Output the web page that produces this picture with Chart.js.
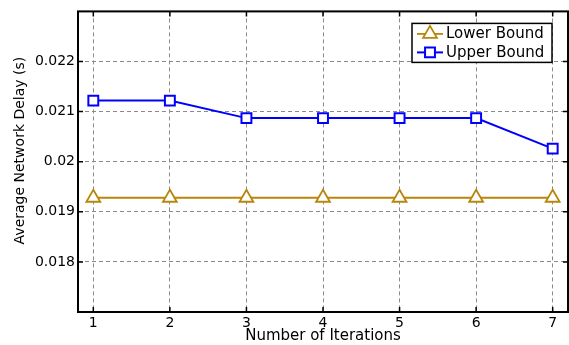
<!DOCTYPE html>
<html><head><meta charset="utf-8">
<script src="https://cdn.jsdelivr.net/npm/chart.js@4.4.0/dist/chart.umd.min.js"></script>
<style>html,body{margin:0;padding:0;background:#fff;overflow:hidden}#wrap{width:569px;height:345px;position:relative}</style>
</head><body><div id="wrap"><canvas id="c" width="569" height="345"></canvas></div>
<script>
const iterations = [1, 2, 3, 4, 5, 6, 7];
const lowerBound = [0.01928, 0.01928, 0.01928, 0.01928, 0.01928, 0.01928, 0.01928];
const upperBound = [0.02122, 0.02122, 0.02087, 0.02087, 0.02087, 0.02087, 0.02026];
const xTicks = [1, 2, 3, 4, 5, 6, 7];
const yTicks = [0.018, 0.019, 0.020, 0.021, 0.022];
const yTickLabels = ['0.018', '0.019', '0.02', '0.021', '0.022'];
const seriesNames = ['Lower Bound', 'Upper Bound'];
const xTitle = 'Number of Iterations';
const yTitle = 'Average Network Delay (s)';

const FONT = '"DejaVu Sans", "Liberation Sans", Arial, sans-serif';

const frameLegendPlugin = {
  id: 'frameLegend',
  afterDraw(chart) {
    const ctx = chart.ctx, ca = chart.chartArea;
    const xs = chart.scales.x, ys = chart.scales.y;
    ctx.save();
    ctx.setLineDash([]);
    ctx.strokeStyle = '#000';
    ctx.lineWidth = 2;
    ctx.strokeRect(ca.left, ca.top, ca.right - ca.left, ca.bottom - ca.top);
    ctx.lineWidth = 1.5;
    ctx.beginPath();
    xTicks.forEach(v => {
      const px = xs.getPixelForValue(v);
      ctx.moveTo(px, ca.bottom); ctx.lineTo(px, ca.bottom - 5);
      ctx.moveTo(px, ca.top); ctx.lineTo(px, ca.top + 5);
    });
    yTicks.forEach(v => {
      const py = ys.getPixelForValue(v);
      ctx.moveTo(ca.left, py); ctx.lineTo(ca.left + 5, py);
      ctx.moveTo(ca.right, py); ctx.lineTo(ca.right - 5, py);
    });
    ctx.stroke();

    // legend
    const lx = ca.right - 156, ly = ca.top + 12, lw = 140, lh = 39;
    ctx.fillStyle = '#fff';
    ctx.fillRect(lx, ly, lw, lh);
    ctx.strokeStyle = '#000';
    ctx.lineWidth = 1.5;
    ctx.strokeRect(lx, ly, lw, lh);
    chart.data.datasets.forEach((ds, i) => {
      const y = ly + 10.5 + i * 18.5;
      ctx.strokeStyle = ds.borderColor;
      ctx.lineWidth = ds.borderWidth;
      ctx.beginPath();
      ctx.moveTo(lx + 5, y); ctx.lineTo(lx + 31, y);
      ctx.stroke();
      ctx.fillStyle = '#fff';
      ctx.strokeStyle = ds.pointBorderColor;
      ctx.lineWidth = ds.pointBorderWidth;
      Chart.helpers.drawPoint(ctx, {pointStyle: ds.pointStyle, radius: ds.pointRadius, rotation: 0, borderWidth: ds.pointBorderWidth}, lx + 18, y);
      ctx.fillStyle = '#000';
      ctx.font = '15px ' + FONT;
      ctx.textBaseline = 'middle';
      ctx.textAlign = 'left';
      ctx.fillText(ds.label, lx + 34, y + 0.5);
    });
    ctx.restore();
  }
};

new Chart(document.getElementById('c'), {
  type: 'line',
  data: {
    datasets: [
      {
        label: seriesNames[0],
        data: iterations.map((x, i) => ({x, y: lowerBound[i]})),
        borderColor: '#B8860B', borderWidth: 1.8,
        pointStyle: 'triangle', pointRadius: 8, pointBorderWidth: 1.8,
        pointBorderColor: '#B8860B', pointBackgroundColor: '#fff',
        tension: 0, fill: false
      },
      {
        label: seriesNames[1],
        data: iterations.map((x, i) => ({x, y: upperBound[i]})),
        borderColor: '#0000FF', borderWidth: 2,
        pointStyle: 'rect', pointRadius: 7, pointBorderWidth: 2,
        pointBorderColor: '#0000FF', pointBackgroundColor: '#fff',
        tension: 0, fill: false
      }
    ]
  },
  options: {
    responsive: false,
    devicePixelRatio: 1,
    animation: false,
    layout: {autoPadding: false, padding: {top: 10, right: 1, left: 0, bottom: 0}},
    plugins: {legend: {display: false}, tooltip: {enabled: false}},
    scales: {
      x: {
        type: 'linear', min: 0.8, max: 7.2,
        afterBuildTicks: s => { s.ticks = xTicks.map(v => ({value: v})); },
        afterFit: s => { s.height = 33; },
        ticks: {padding: 3, color: '#000', font: {family: FONT, size: 14}, callback: v => String(v), maxRotation: 0},
        grid: {color: '#8a8a8a', lineWidth: 1, drawTicks: false},
        border: {display: false, dash: [4, 3]},
        title: {display: true, text: xTitle, color: '#000', font: {family: FONT, size: 15}, padding: {top: 0, bottom: 0}}
      },
      y: {
        type: 'linear', min: 0.017, max: 0.023,
        afterBuildTicks: s => { s.ticks = yTicks.map(v => ({value: v})); },
        afterFit: s => { s.width = 78; },
        ticks: {padding: 3, color: '#000', font: {family: FONT, size: 14}, callback: (v) => { const i = yTicks.findIndex(t => Math.abs(t - v) < 1e-9); return i >= 0 ? yTickLabels[i] : ''; }},
        grid: {color: '#8a8a8a', lineWidth: 1, drawTicks: false},
        border: {display: false, dash: [4, 3]},
        title: {display: true, text: '     ' + yTitle, color: '#000', font: {family: FONT, size: 14}, padding: {top: 12, bottom: 0}}
      }
    }
  },
  plugins: [frameLegendPlugin]
});
</script>
</body></html>
